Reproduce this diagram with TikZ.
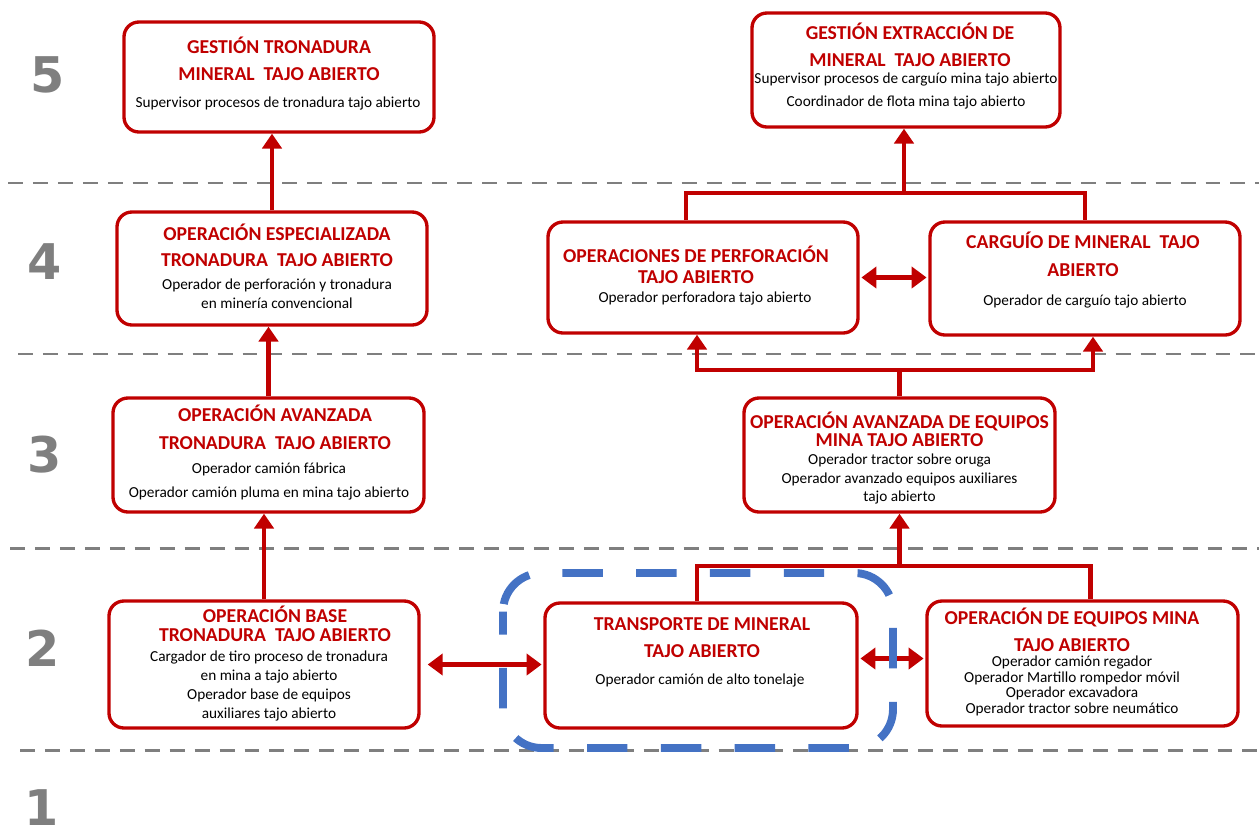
\documentclass[tikz,border=0pt]{standalone}
\usepackage{fontspec}
\setmainfont{Carlito}
\newfontfamily\numfont{DejaVu Sans}
\usetikzlibrary{arrows.meta,calc}
\definecolor{rd}{HTML}{C00000}
\definecolor{bl}{HTML}{4472C4}
\definecolor{gr}{HTML}{7F7F7F}
\tikzset{
  box/.style={draw=rd, line width=1.9pt, rounded corners=8.5pt, fill=white, inner sep=0pt},
  ttl/.style={text=rd, font=\bfseries\fontsize{11.2}{#1}\selectfont, align=center, inner sep=0pt},
  sub/.style={text=black, font=\fontsize{8.7}{#1}\selectfont, align=center, inner sep=0pt},
  num/.style={text=gr, font=\numfont\bfseries\fontsize{28}{28}\selectfont, inner sep=0pt},
  conn/.style={draw=rd, line width=2.8pt, line join=miter},
  arr/.style={conn, -{Triangle[width=11pt,length=8.5pt]}},
  darr/.style={conn, {Triangle[width=12pt,length=8.5pt]}-{Triangle[width=12pt,length=8.5pt]}},
  level/.style={draw=gr, line width=1.7pt, dash pattern=on 8.5pt off 5.7pt},
  group/.style={draw=bl, line width=4.5pt, rounded corners=22pt, dash pattern=on 23pt off 19pt, dash phase=10pt}
}
\newcommand\bx[5]{\node[box, minimum width=#4*0.02cm, minimum height=#5*0.02cm] (#1) at (#2,#3) {};}
\begin{document}
\begin{tikzpicture}[x=0.02cm, y=-0.02cm]
\useasboundingbox (0,0) rectangle (1259,829);
% level separators
\draw[level] (8,183) -- (1259,183);
\draw[level] (18,354) -- (1259,354);
\draw[level] (10,548) -- (1259,548);
\draw[level] (20,750) -- (1259,750);
% level numbers
\node[num] (n5) at (48,75) {5};
\node[num] (n4) at (45,262) {4};
\node[num] (n3) at (45,455) {3};
\node[num] (n2) at (43,648) {2};
\node[num] (n1) at (42,808) {1};
% boxes
\bx{B5L}{279}{77}{310}{110}
\bx{B5R}{906}{70}{308}{114}
\bx{B4L}{272}{268.5}{310}{113}
\bx{B4M}{703}{277.5}{310}{111}
\bx{B4R}{1085}{278.5}{310}{113}
\bx{B3L}{268.5}{455}{311}{114}
\bx{B3R}{899.5}{455}{311}{114}
\bx{B2L}{264}{664.5}{310}{127}
\bx{B2M}{701}{665.5}{312}{125}
\bx{B2R}{1082.5}{663.5}{311}{125}
% texts
\node[ttl=15.3pt] (B5Lt) at (279,58.5) {GESTIÓN TRONADURA\\MINERAL\ \ TAJO ABIERTO};
\node[sub=10pt] (B5Ls) at (278,103) {Supervisor procesos de tronadura tajo abierto};
\node[ttl=15.3pt] (B5Rt) at (910,44.5) {GESTIÓN EXTRACCIÓN DE\\MINERAL\ \ TAJO ABIERTO};
\node[sub=13.6pt] (B5Rs) at (906,91) {Supervisor procesos de carguío mina tajo abierto\\Coordinador de flota mina tajo abierto};
\node[ttl=14.7pt] (B4Lt) at (277,245) {OPERACIÓN ESPECIALIZADA\\TRONADURA\ \ TAJO ABIERTO};
\node[sub=10.8pt] (B4Ls) at (277,293.5) {Operador de perforación y tronadura\\en minería convencional};
\node[ttl=11.9pt] (B4Mt) at (696,264.5) {OPERACIONES DE PERFORACIÓN\\TAJO ABIERTO};
\node[sub=10pt] (B4Ms) at (705,298) {Operador perforadora tajo abierto};
\node[ttl=15.9pt] (B4Rt) at (1083,254) {CARGUÍO DE MINERAL\ \ TAJO\\ABIERTO};
\node[sub=10pt] (B4Rs) at (1085,302) {Operador de carguío tajo abierto};
\node[ttl=15.9pt] (B3Lt) at (275,427) {OPERACIÓN AVANZADA\\TRONADURA\ \ TAJO ABIERTO};
\node[sub=14.2pt] (B3Ls) at (269,481.5) {Operador camión fábrica\\Operador camión pluma en mina tajo abierto};
\node[ttl=10.2pt] (B3Rt) at (899.5,429) {OPERACIÓN AVANZADA DE EQUIPOS\\MINA TAJO ABIERTO};
\node[sub=10.8pt] (B3Rs) at (899.5,479) {Operador tractor sobre oruga\\Operador avanzado equipos auxiliares\\tajo abierto};
\node[ttl=10.8pt] (B2Lt) at (275,623.5) {OPERACIÓN BASE\\TRONADURA\ \ TAJO ABIERTO};
\node[sub=10.9pt] (B2Ls) at (269,686) {Cargador de tiro proceso de tronadura\\en mina a tajo abierto\\Operador base de equipos\\auxiliares tajo abierto};
\node[ttl=15.3pt] (B2Mt) at (702,637.5) {TRANSPORTE DE MINERAL\\TAJO ABIERTO};
\node[sub=10pt] (B2Ms) at (700,680) {Operador camión de alto tonelaje};
\node[ttl=15.3pt] (B2Rt) at (1072,630) {OPERACIÓN DE EQUIPOS MINA\\TAJO ABIERTO};
\node[sub=8.9pt] (B2Rs) at (1072,686) {Operador camión regador\\Operador Martillo rompedor móvil\\Operador excavadora\\Operador tractor sobre neumático};
% left column arrows
\draw[arr] (B2L.north) -- (B2L.north |- B3L.south);
\draw[arr] (B3L.north) -- (B3L.north |- B4L.south);
\draw[arr] (B4L.north) -- (B4L.north |- B5L.south);
% horizontal double arrows
\draw[darr, shorten <=4pt, shorten >=1pt] (B2L.east) -- (B2L.east -| B2M.west);
\coordinate (h2) at ($(B2M.east)+(0,-7)$);
\draw[darr, shorten <=1pt, shorten >=1pt] (h2) -- (h2 -| B2R.west);
\draw[darr, shorten <=1pt, shorten >=1pt] (B4M.east) -- (B4M.east -| B4R.west);
% tree level 2 -> 3
\coordinate (t2) at (899.5,566);
\coordinate (s2a) at ($(B2M.north)+(-4,0)$);
\coordinate (s2b) at ($(B2R.north)+(8,0)$);
\draw[conn] (s2a) |- (t2) -| (s2b);
\draw[arr] (t2) -- (B3R.south);
% tree level 3 -> 4
\coordinate (t3) at (897,370);
\coordinate (e3a) at ($(B4M.south)+(-6,0)$);
\coordinate (e3b) at ($(B4R.south)+(8,0)$);
\draw[conn] (B3R.north) -- (B3R.north |- t3);
\draw[arr] (t3) -| (e3a);
\draw[arr] (t3) -| (e3b);
% tree level 4 -> 5
\coordinate (t4) at (904,193);
\coordinate (s4a) at ($(B4M.north)+(-17,0)$);
\draw[conn] (s4a) |- (t4) -| (B4R.north);
\draw[arr] (t4) -- (t4 |- B5R.south);
% highlighted group
\draw[group] (503,573) rectangle (893,748);
\end{tikzpicture}
\end{document}
